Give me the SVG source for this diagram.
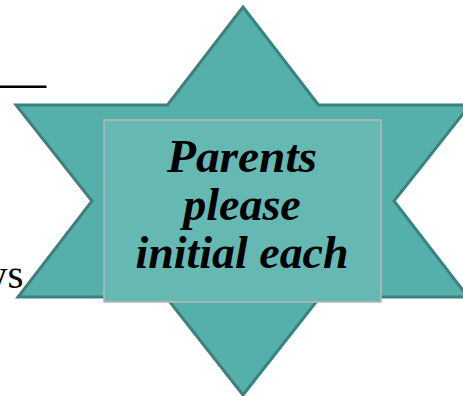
<svg xmlns="http://www.w3.org/2000/svg" width="463" height="396" viewBox="0 0 463 396">
<style>
.star{fill:#55b0ab;stroke:#3b827e;stroke-width:3;stroke-linejoin:miter}
.box{fill:#66b9b2;stroke:#b8b8b8;stroke-width:1.5}
.lbl{font-family:"Liberation Serif","Times New Roman",serif;font-weight:bold;font-style:italic;font-size:46px;fill:#000;text-anchor:middle}
.side{font-family:"Liberation Serif","Times New Roman",serif;font-size:41px;fill:#000}
</style>
<rect width="463" height="396" fill="#fff"/>
<line x1="0" y1="86.8" x2="46.5" y2="86.8" stroke="#000" stroke-width="2.6"/>
<text class="side" x="23.5" y="288" text-anchor="end">ys</text>
<g id="star">
<polygon class="star" points="243,7 318.5,105 470,105 394,201 468,297 320,297 243,395 166,297 18,297 92,201 16,105 167.5,105"/>
</g>
<g id="label">
<rect class="box" x="104" y="120" width="277" height="182"/>
<text class="lbl" x="242" y="171.5" textLength="150" lengthAdjust="spacingAndGlyphs">Parents</text>
<text class="lbl" x="242" y="220">please</text>
<text class="lbl" x="242" y="268" textLength="213" lengthAdjust="spacingAndGlyphs">initial each</text>
</g>
<g id="connectors"/>
</svg>
